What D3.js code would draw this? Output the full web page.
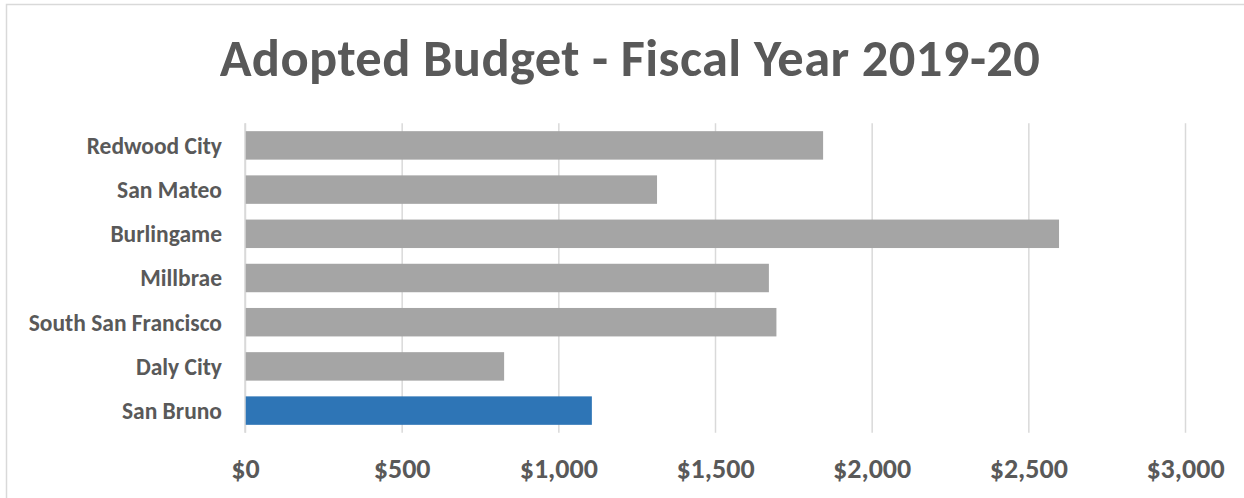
<!DOCTYPE html>
<html>
<head>
<meta charset="utf-8">
<script src="https://cdn.jsdelivr.net/npm/d3@7"></script>
<style>
  html, body { margin: 0; padding: 0; background: #ffffff; }
  svg { display: block; }
  text { font-family: Carlito, Lato, "Open Sans", sans-serif; font-weight: 700; fill: #595959; }
</style>
</head>
<body>
<svg id="chart" width="1244" height="498"></svg>
<script>
// Adopted budget by city, FY 2019-20
const cities = ["Redwood City", "San Mateo", "Burlingame", "Millbrae", "South San Francisco", "Daly City", "San Bruno"];
const budgets = [1845, 1315, 2598, 1672, 1696, 827, 1107];
const highlightCity = "San Bruno";
const xTicks = [0, 500, 1000, 1500, 2000, 2500, 3000];
const titleText = "Adopted Budget - Fiscal Year 2019-20";

const rows = cities.map((c, i) => ({ city: c, value: budgets[i] }));

const W = 1244, H = 498;
const plot = { left: 245, right: 1185, top: 123.3, bottom: 432.7 };

const svg = d3.select("#chart");

// chart frame
svg.append("rect")
  .attr("x", 6.5).attr("y", 4.5)
  .attr("width", W + 20).attr("height", H + 20)
  .attr("fill", "none").attr("stroke", "#d9d9d9").attr("stroke-width", 1.5);

const x = d3.scaleLinear().domain([0, 3000]).range([plot.left, plot.right]);
const y = d3.scaleBand().domain(cities).range([plot.top, plot.bottom])
  .paddingInner(0.356).paddingOuter(0.178);

// title
svg.append("text")
  .attr("x", 630).attr("y", 76)
  .attr("text-anchor", "middle")
  .style("font-size", "52.5px")
  .style("letter-spacing", "0.4px")
  .text(titleText);

// vertical gridlines with dollar tick labels
const xAxis = d3.axisBottom(x).tickValues(xTicks)
  .tickSize(-(plot.bottom - plot.top)).tickPadding(0)
  .tickFormat(d3.format("$,"));
const gx = svg.append("g").attr("transform", `translate(0,${plot.bottom})`).call(xAxis);
gx.select(".domain").remove();
gx.selectAll(".tick line").attr("stroke", "#d9d9d9").attr("stroke-width", 1.5);
gx.selectAll(".tick text")
  .attr("y", 45).attr("dy", null)
  .style("font-size", "28px").style("fill", "#595959");

// bars
svg.append("g").selectAll("rect").data(rows).join("rect")
  .attr("x", x(0))
  .attr("y", d => y(d.city))
  .attr("width", d => x(d.value) - x(0))
  .attr("height", y.bandwidth())
  .attr("fill", d => d.city === highlightCity ? "#2e75b6" : "#a5a5a5");

// category axis
const yAxis = d3.axisLeft(y).tickSize(0).tickPadding(23);
const gy = svg.append("g").attr("transform", `translate(${plot.left},0)`).call(yAxis);
gy.select(".domain").attr("stroke", "#d9d9d9").attr("stroke-width", 1.5)
  .attr("d", `M0,${plot.top}V${plot.bottom}`);
gy.selectAll(".tick text")
  .attr("dy", "0.36em")
  .style("font-size", "23.5px").style("fill", "#595959");
</script>
</body>
</html>
